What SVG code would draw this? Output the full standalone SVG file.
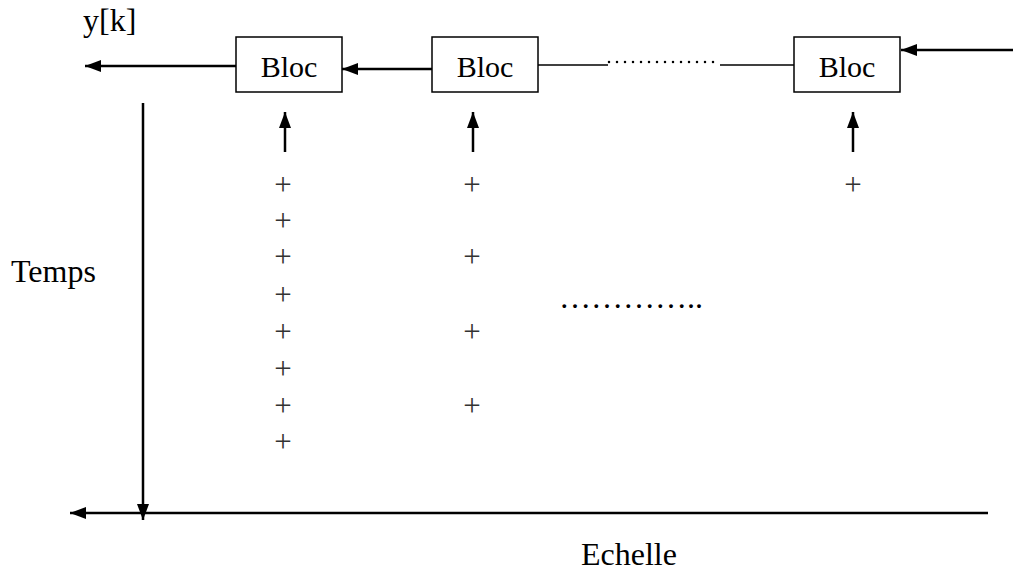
<svg xmlns="http://www.w3.org/2000/svg" width="1013" height="575" viewBox="0 0 1013 575">
<defs>
<marker id="ah" viewBox="0 0 16 12" refX="16" refY="6" markerWidth="16" markerHeight="12" markerUnits="userSpaceOnUse" orient="auto">
<path d="M0,0 L16,6 L0,12 Z" fill="#000"/>
</marker>
</defs>
<style>
text{font-family:"Liberation Serif","Times New Roman",serif;font-size:32px;fill:#000}
.bl{font-size:30px;text-anchor:middle}
.box{fill:#fff;stroke:#000;stroke-width:1.5}
.arr{stroke:#000;stroke-width:2.5;fill:none;marker-end:url(#ah)}
.thin{stroke:#000;stroke-width:1.5;fill:none}
.plus{text-anchor:middle;fill:#333;font-size:31px}
</style>
<rect width="1013" height="575" fill="#fff"/>
<g id="connectors">
<line class="arr" x1="236" y1="66" x2="85" y2="66"/>
<line class="arr" x1="432" y1="69" x2="342" y2="69"/>
<line class="thin" x1="538" y1="65" x2="608" y2="65"/>
<line x1="609" y1="62" x2="720" y2="62" stroke="#000" stroke-width="2.5" stroke-linecap="round" stroke-dasharray="0 8"/>
<line class="thin" x1="720" y1="65" x2="794" y2="65"/>
<line class="arr" x1="1013" y1="50" x2="901" y2="50"/>
<line class="arr" x1="285" y1="152" x2="285" y2="112"/>
<line class="arr" x1="473" y1="152" x2="473" y2="112"/>
<line class="arr" x1="853" y1="152" x2="853" y2="112"/>
<line class="arr" x1="143" y1="103" x2="143" y2="520"/>
<line class="arr" x1="988" y1="513" x2="70" y2="513"/>
</g>
<g id="bloc1">
<rect class="box" x="236" y="37" width="106" height="55"/>
<text class="bl" x="289" y="77">Bloc</text>
</g>
<g id="bloc2">
<rect class="box" x="432" y="37" width="106" height="55"/>
<text class="bl" x="485" y="77">Bloc</text>
</g>
<g id="bloc3">
<rect class="box" x="794" y="37" width="106" height="55"/>
<text class="bl" x="847" y="77">Bloc</text>
</g>
<g id="labels">
<text x="83" y="31">y[k]</text>
<text x="11" y="282">Temps</text>
<text x="581" y="565">Echelle</text>
<text x="559" y="308">…………..</text>
</g>
<g id="samples">
<text class="plus" x="283" y="195">+</text>
<text class="plus" x="283" y="231">+</text>
<text class="plus" x="283" y="267">+</text>
<text class="plus" x="283" y="305">+</text>
<text class="plus" x="283" y="342">+</text>
<text class="plus" x="283" y="379">+</text>
<text class="plus" x="283" y="416">+</text>
<text class="plus" x="283" y="452">+</text>
<text class="plus" x="472" y="195">+</text>
<text class="plus" x="472" y="267">+</text>
<text class="plus" x="472" y="342">+</text>
<text class="plus" x="472" y="416">+</text>
<text class="plus" x="853" y="195">+</text>
</g>
</svg>
